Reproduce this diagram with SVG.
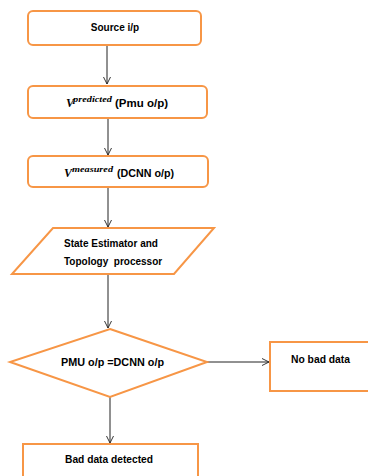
<svg xmlns="http://www.w3.org/2000/svg" width="368" height="476" viewBox="0 0 368 476">
<defs>
<style>
.box{fill:#fff;stroke:#F79646;stroke-width:2}
.t{font-family:"Liberation Sans",Arial,sans-serif;font-weight:bold;font-size:10px;fill:#000}
.m{font-family:"Liberation Serif","Times New Roman",serif;font-style:italic;font-weight:bold;fill:#000}
.c{stroke:#222;stroke-width:1;fill:none}
</style>
<marker id="ah" viewBox="0 0 10 10" refX="10" refY="5" markerUnits="userSpaceOnUse" markerWidth="7" markerHeight="8" orient="auto">
<path d="M0,0 L10,5 L0,10" fill="none" stroke="#222" stroke-width="1.3"/>
</marker>
</defs>
<rect width="368" height="476" fill="#fff"/>
<g id="connectors">
<line class="c" x1="107" y1="45" x2="107" y2="84" marker-end="url(#ah)"/>
<line class="c" x1="108" y1="118" x2="108" y2="155" marker-end="url(#ah)"/>
<line class="c" x1="108" y1="187" x2="108" y2="227" marker-end="url(#ah)"/>
<line class="c" x1="108" y1="274" x2="108" y2="328" marker-end="url(#ah)"/>
<line class="c" x1="207" y1="362" x2="269" y2="362" marker-end="url(#ah)"/>
<line class="c" x1="110" y1="397" x2="110" y2="443" marker-end="url(#ah)"/>
</g>
<g id="source">
<rect class="box" x="28" y="11" width="173" height="34" rx="5"/>
<text class="t" x="115" y="31" text-anchor="middle">Source i/p</text>
</g>
<g id="predicted">
<rect class="box" x="28" y="86" width="179" height="32" rx="5"/>
<text class="m" x="66" y="107" font-size="12">V</text>
<text class="m" x="73" y="102" font-size="9" textLength="39" lengthAdjust="spacingAndGlyphs">predicted</text>
<text class="t" x="115" y="107" textLength="53" lengthAdjust="spacingAndGlyphs">(Pmu o/p)</text>
</g>
<g id="measured">
<rect class="box" x="28" y="156" width="180" height="31" rx="5"/>
<text class="m" x="64" y="177" font-size="12">V</text>
<text class="m" x="72" y="172" font-size="9" textLength="41" lengthAdjust="spacingAndGlyphs">measured</text>
<text class="t" x="117" y="177" textLength="57" lengthAdjust="spacingAndGlyphs">(DCNN o/p)</text>
</g>
<g id="estimator">
<polygon class="box" points="53,228 214,228 174,274 12,274"/>
<text class="t" x="64" y="247">State Estimator and</text>
<text class="t" x="64" y="265" xml:space="preserve">Topology  processor</text>
</g>
<g id="decision">
<polygon class="box" points="110,329 207,362 110,397 10,362"/>
<text class="t" x="61" y="366" textLength="103" lengthAdjust="spacingAndGlyphs">PMU o/p =DCNN o/p</text>
</g>
<g id="nobad">
<rect class="box" x="270" y="342" width="110" height="49"/>
<text class="t" x="291" y="363" textLength="59" lengthAdjust="spacingAndGlyphs">No bad data</text>
</g>
<g id="bad">
<rect class="box" x="23" y="444" width="175" height="50"/>
<text class="t" x="65" y="463" textLength="88" lengthAdjust="spacingAndGlyphs">Bad data detected</text>
</g>
</svg>
